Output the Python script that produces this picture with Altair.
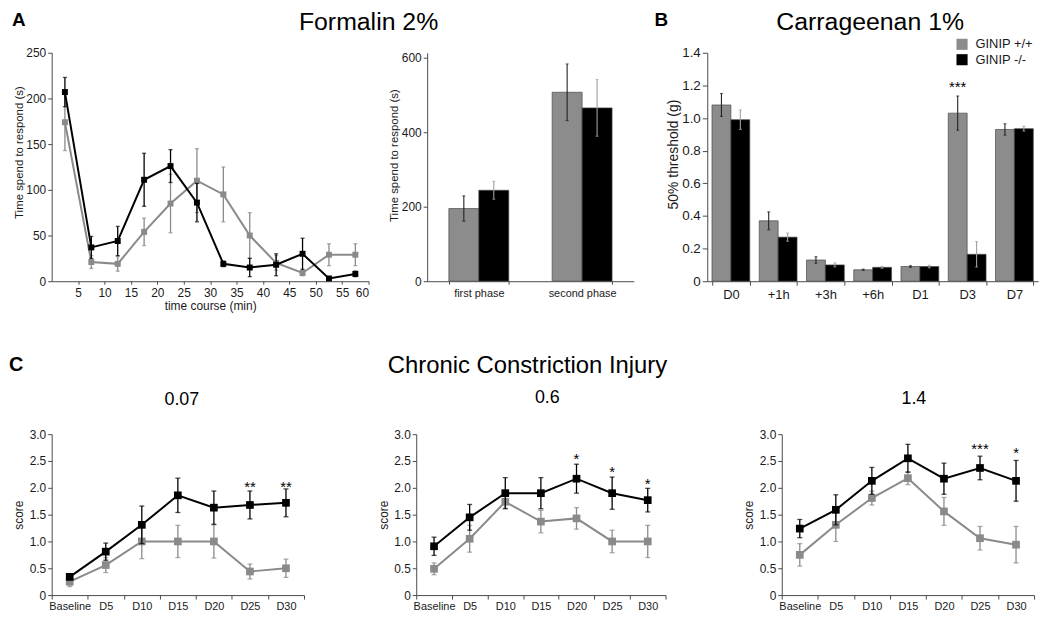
import altair as alt
import pandas as pd

FONT = "Liberation Sans"
GRAY = "#8a8a8a"
BAR_GRAY = "#8c8c8c"
AXIS = "#4a4a4a"
TXT = "#1a1a1a"

groups = ["GINIP +/+", "GINIP -/-"]

# ---- Panel A (left): formalin time course ----
time_min = [2.5, 7.5, 12.5, 17.5, 22.5, 27.5, 32.5, 37.5, 42.5, 47.5, 52.5, 57.5]
time_ticks = [5, 10, 15, 20, 25, 30, 35, 40, 45, 50, 55, 60]
a1_wt = [174, 21, 19, 54, 85, 110, 95, 50, 20, 9, 29, 29]
a1_wt_err = [31, 7, 8, 15, 32, 35, 30, 25, 8, 3, 12, 12]
a1_ko = [207, 37, 44, 111, 126, 86, 19, 15, 18, 30, 3, 8]
a1_ko_err = [16, 12, 16, 29, 18, 21, 3, 10, 12, 17, 1, 3]

# ---- Panel A (right): phases ----
phases = ["first phase", "second phase"]
a2_wt = [195, 507]
a2_wt_err = [34, 76]
a2_ko = [244, 465]
a2_ko_err = [24, 76]

# ---- Panel B: carrageenan ----
b_cats = ["D0", "+1h", "+3h", "+6h", "D1", "D3", "D7"]
b_wt = [1.08, 0.37, 0.13, 0.07, 0.09, 1.03, 0.93]
b_wt_err = [0.07, 0.055, 0.02, 0.004, 0.005, 0.105, 0.035]
b_ko = [0.99, 0.27, 0.10, 0.085, 0.09, 0.165, 0.935]
b_ko_err = [0.06, 0.025, 0.012, 0.006, 0.008, 0.078, 0.015]
b_star_cat = ["D3"]
b_star_val = [1.216]
b_star_txt = ["***"]

# ---- Panel C: CCI ----
days = ["Baseline", "D5", "D10", "D15", "D20", "D25", "D30"]
c1_wt = [0.25, 0.56, 1.0, 1.0, 1.0, 0.44, 0.5]
c1_wt_err = [0.09, 0.14, 0.32, 0.30, 0.31, 0.14, 0.17]
c1_ko = [0.34, 0.81, 1.31, 1.86, 1.63, 1.68, 1.72]
c1_ko_err = [0.05, 0.16, 0.35, 0.32, 0.31, 0.26, 0.26]
c1_star_day = ["D25", "D30"]
c1_star_val = [2.09, 2.09]
c1_star_txt = ["**", "**"]

c2_wt = [0.49, 1.05, 1.74, 1.37, 1.43, 1.0, 1.0]
c2_wt_err = [0.11, 0.25, 0.12, 0.21, 0.20, 0.21, 0.30]
c2_ko = [0.91, 1.45, 1.90, 1.90, 2.17, 1.90, 1.77]
c2_ko_err = [0.17, 0.24, 0.29, 0.29, 0.27, 0.30, 0.22]
c2_star_day = ["D20", "D25", "D30"]
c2_star_val = [2.61, 2.37, 2.15]
c2_star_txt = ["*", "*", "*"]

c3_wt = [0.75, 1.31, 1.81, 2.18, 1.56, 1.06, 0.94]
c3_wt_err = [0.21, 0.31, 0.13, 0.12, 0.26, 0.22, 0.34]
c3_ko = [1.24, 1.59, 2.13, 2.55, 2.17, 2.37, 2.13]
c3_ko_err = [0.17, 0.28, 0.25, 0.26, 0.29, 0.22, 0.38]
c3_star_day = ["D25", "D30"]
c3_star_val = [2.80, 2.72]
c3_star_txt = ["***", "*"]

c_titles = ["0.07", "0.6", "1.4"]


def long_df(xs, wt, wt_err, ko, ko_err):
    rows = []
    for g, vals, errs in ((groups[0], wt, wt_err), (groups[1], ko, ko_err)):
        for x, v, e in zip(xs, vals, errs):
            rows.append({"x": x, "grp": g, "v": v, "lo": v - e, "hi": v + e})
    return pd.DataFrame(rows)


def label_text(txt, x, y, size, weight="normal", align="left"):
    return alt.Chart(pd.DataFrame({"t": [txt]})).mark_text(
        font=FONT, fontSize=size, fontWeight=weight, align=align,
        baseline="alphabetic", color="black"
    ).encode(text="t:N", x=alt.value(x), y=alt.value(y))


def spacer(w, h):
    return alt.Chart(pd.DataFrame({"t": [""]})).mark_text(opacity=0).encode(
        text="t:N", x=alt.value(0), y=alt.value(0)).properties(width=w, height=h)


def y_maker(domain, values, title, ty, lab_size, title_size, fmt=True, tick=4, tx=-29):
    ax = dict(values=values, title=title, titleX=tx, titleY=ty,
              titleBaseline="alphabetic", titleAngle=-90, titleFontSize=title_size,
              labelFontSize=lab_size, tickSize=tick, labelPadding=2, grid=False)
    if fmt:
        ax["labelExpr"] = "datum.value == 0 ? '0' : format(datum.value, '.1f')"

    def f(field):
        return alt.Y(f"{field}:Q", scale=alt.Scale(domain=domain, nice=False, zero=True),
                     axis=alt.Axis(**ax))
    return f


def line_layers(df, xenc, yf, line_w, pt_size, cap, stars=None, star_x=None):
    layers = []
    for g, col in ((groups[0], GRAY), (groups[1], "black")):
        base = alt.Chart(df).transform_filter(alt.datum.grp == g)
        layers.append(base.mark_rule(color=col, strokeWidth=1.3).encode(x=xenc, y=yf("lo"), y2="hi:Q"))
        layers.append(base.mark_tick(color=col, orient="horizontal", size=cap, thickness=1.3).encode(x=xenc, y=yf("hi")))
        layers.append(base.mark_tick(color=col, orient="horizontal", size=cap, thickness=1.3).encode(x=xenc, y=yf("lo")))
        layers.append(base.mark_line(color=col, strokeWidth=line_w).encode(x=xenc, y=yf("v")))
        layers.append(base.mark_point(shape="square", filled=True, color=col, size=pt_size, opacity=1).encode(x=xenc, y=yf("v")))
    if stars is not None:
        layers.append(alt.Chart(stars).mark_text(font=FONT, fontSize=15, baseline="middle", dy=4, color="black")
                      .encode(x=star_x, y=yf("v"), text="s:N"))
    return layers


color_scale = alt.Scale(domain=groups, range=[BAR_GRAY, "black"])
legend = alt.Legend(title=None, orient="none", legendX=910, legendY=-15, symbolType="square",
                    symbolSize=125, labelFontSize=13, labelFont=FONT, rowPadding=1.5, labelOffset=7,
                    symbolStrokeWidth=0, padding=0)


def bar_layers(df, cats, xaxis, yf, pi, po, stars=None):
    xenc = alt.X("x:N", sort=cats, scale=alt.Scale(paddingInner=pi, paddingOuter=po), axis=xaxis)
    xoff = alt.XOffset("grp:N", sort=groups)
    layers = [alt.Chart(df).mark_bar(stroke="#4a4a4a", strokeWidth=0.7).encode(
        x=xenc, xOffset=xoff, y=yf("v"),
        color=alt.Color("grp:N", scale=color_scale, legend=legend))]
    for g, ecol in ((groups[0], "#222222"), (groups[1], "#a0a0a0")):
        base = alt.Chart(df).transform_filter(alt.datum.grp == g)
        layers.append(base.mark_rule(color=ecol, strokeWidth=1.1).encode(x=xenc, xOffset=xoff, y=yf("lo"), y2="hi:Q"))
        layers.append(base.mark_tick(color=ecol, orient="horizontal", size=3, thickness=1.1).encode(x=xenc, xOffset=xoff, y=yf("hi")))
        layers.append(base.mark_tick(color=ecol, orient="horizontal", size=3, thickness=1.1).encode(x=xenc, xOffset=xoff, y=yf("lo")))
    if stars is not None:
        layers.append(alt.Chart(stars).mark_text(font=FONT, fontSize=15, baseline="middle", dy=4, color="black")
                      .encode(x=xenc, xOffset=xoff, y=yf("v"), text="s:N"))
    return layers


H1 = 230
H2 = 162

# ---- A1 ----
dfa1 = long_df(time_min, a1_wt, a1_wt_err, a1_ko, a1_ko_err)
xa1 = alt.X("x:Q", scale=alt.Scale(domain=[0, 60], nice=False),
            axis=alt.Axis(values=time_ticks, title="time course (min)", labelFontSize=12,
                          titleFontSize=12, tickSize=3, labelPadding=3, titlePadding=2, grid=False))
ya1 = y_maker([0, 250], [0, 50, 100, 150, 200, 250], "Time spend to respond (s)", 100, 12, 11.5, fmt=False)
A1 = alt.layer(
    *line_layers(dfa1, xa1, ya1, 2, 36, 4),
    label_text("A", -40, -27, 19, "bold"),
    label_text("Formalin 2%", 319, -23, 25, align="center"),
).properties(width=319, height=H1)

# ---- A2 ----
dfa2 = long_df(phases, a2_wt, a2_wt_err, a2_ko, a2_ko_err)
ya2 = y_maker([0, 613], [0, 200, 400, 600], "Time spend to respond (s)", 103, 12, 11.5, fmt=False, tx=-30)
xa2_axis = alt.Axis(title=None, labelAngle=0, labelFontSize=11, tickBand="extent", tickSize=3,
                    labelPadding=3, grid=False)
A2 = alt.layer(*bar_layers(dfa2, phases, xa2_axis, ya2, 0.42, 0.21)).properties(width=208, height=H1)

# ---- B ----
dfb = long_df(b_cats, b_wt, b_wt_err, b_ko, b_ko_err)
b_stars = pd.DataFrame({"x": b_star_cat, "grp": [groups[0]] * len(b_star_cat), "v": b_star_val, "s": b_star_txt})
yb = y_maker([0, 1.4], [0, 0.2, 0.4, 0.6, 0.8, 1.0, 1.2, 1.4], "50% threshold (g)", 102, 13.5, 14, tick=5, tx=-30)
xb_axis = alt.Axis(title=None, labelAngle=0, labelFontSize=13, tickBand="extent", tickSize=4,
                   labelPadding=3, grid=False)
B = alt.layer(
    *bar_layers(dfb, b_cats, xb_axis, yb, 0.2, 0.1, stars=b_stars),
    label_text("B", -53, -27, 19, "bold"),
    label_text("Carrageenan 1%", 164, -23, 25, align="center"),
).properties(width=333, height=H1)

# ---- C panels ----
xc = alt.X("x:N", sort=days, scale=alt.Scale(type="band", paddingInner=0, paddingOuter=0),
           axis=alt.Axis(title=None, labelAngle=0, labelFontSize=11, tickBand="extent", tickSize=4,
                         labelPadding=2, grid=False))
yc = y_maker([0, 3], [0, 0.5, 1.0, 1.5, 2.0, 2.5, 3.0], "score", H2 / 2, 12, 12)


def c_panel(wt, wt_err, ko, ko_err, sd, sv, st, width, title, tx, ty, extra=()):
    df = long_df(days, wt, wt_err, ko, ko_err)
    stars = pd.DataFrame({"x": sd, "v": sv, "s": st})
    return alt.layer(
        *line_layers(df, xc, yc, 2, 60, 5, stars=stars, star_x=xc),
        label_text(title, tx, ty, 18, align="center"),
        *extra,
    ).properties(width=width, height=H2)


C1 = c_panel(c1_wt, c1_wt_err, c1_ko, c1_ko_err, c1_star_day, c1_star_val, c1_star_txt, 254,
             c_titles[0], 131, -29,
             extra=(label_text("C", -43, -64, 20, "bold"),
                    label_text("Chronic Constriction Injury", 479, -62, 24, align="center")))
C2 = c_panel(c2_wt, c2_wt_err, c2_ko, c2_ko_err, c2_star_day, c2_star_val, c2_star_txt, 251,
             c_titles[1], 132, -31)
C3 = c_panel(c3_wt, c3_wt_err, c3_ko, c3_ko_err, c3_star_day, c3_star_val, c3_star_txt, 254,
             c_titles[2], 133, -30)

row1 = alt.hconcat(A1, spacer(59, H1), A2, spacer(74, H1), B, spacing=0, bounds="flush"
                   ).resolve_scale(xOffset="independent")
row2 = alt.hconcat(C1, spacer(113, H2), C2, spacer(117, H2), C3, spacing=0, bounds="flush")

chart = alt.vconcat(row1, row2, spacing=43).properties(
    padding={"left": 1, "top": 0, "right": 4, "bottom": 4}
).configure_view(stroke=None).configure_axis(
    grid=False, labelFont=FONT, titleFont=FONT, domainColor=AXIS, tickColor=AXIS,
    labelColor=TXT, titleColor=TXT, titleFontWeight="normal", domainWidth=1, tickWidth=1
).configure_legend(labelColor=TXT)

chart.save("out.html", embed_options={"renderer": "svg", "actions": False})
